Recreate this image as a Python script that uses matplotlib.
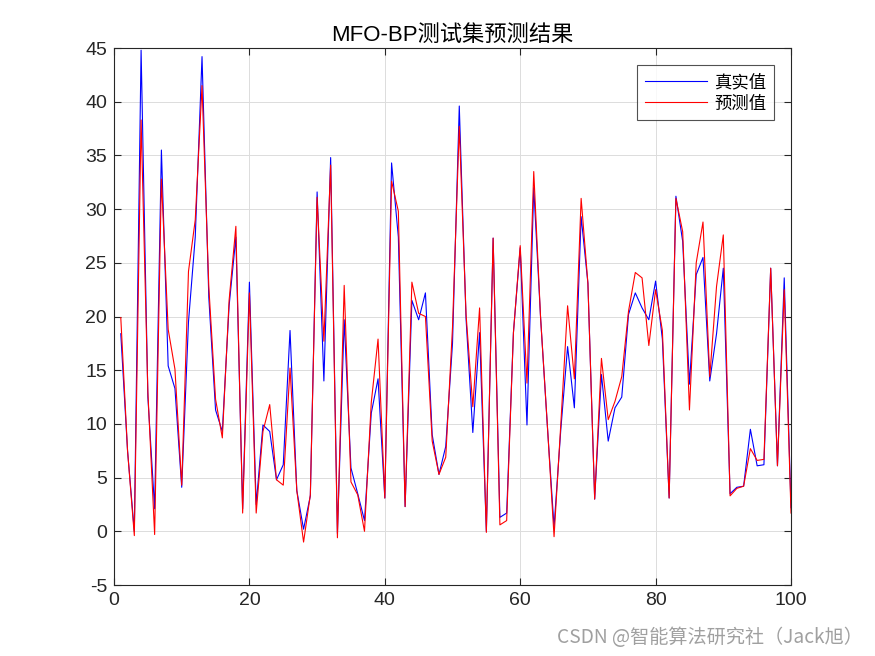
import matplotlib
matplotlib.use("Agg")
import matplotlib.pyplot as plt
import numpy as np

plt.rcParams['font.family'] = ['Liberation Sans', 'Noto Sans CJK SC', 'DejaVu Sans']

x_index = list(range(1, 101))
true_values = [
    18.4, 7.5, 0.0, 44.8, 12.5, 2.1, 35.5, 15.4, 13.3, 4.1,
    19.5, 27.4, 44.2, 21.8, 11.3, 9.3, 21.0, 27.4, 2.1, 23.2,
    2.5, 9.9, 9.3, 4.8, 6.2, 18.7, 3.8, 0.2, 3.3, 31.6,
    14.0, 34.8, -0.2, 19.7, 5.9, 3.5, 1.0, 11.0, 14.2, 3.1,
    34.3, 27.4, 2.3, 21.5, 19.7, 22.2, 9.0, 5.3, 7.9, 17.5,
    39.6, 19.8, 9.2, 18.5, 0.0, 27.3, 1.3, 1.7, 18.5, 26.4,
    9.9, 32.0, 20.0, 9.9, 0.4, 9.5, 17.2, 11.5, 29.3, 23.1,
    3.0, 14.6, 8.4, 11.5, 12.5, 20.2, 22.2, 20.8, 19.7, 23.3,
    17.9, 3.1, 31.2, 27.0, 13.7, 23.9, 25.5, 14.0, 18.4, 24.5,
    3.5, 4.1, 4.2, 9.5, 6.1, 6.2, 24.5, 6.1, 23.6, 2.2,
]
pred_values = [
    19.9, 7.5, -0.4, 38.3, 13.0, -0.3, 32.8, 18.8, 15.1, 4.3,
    24.2, 29.0, 41.5, 22.8, 12.3, 8.7, 21.5, 28.4, 1.7, 22.2,
    1.7, 9.3, 11.8, 4.8, 4.3, 15.2, 3.8, -1.0, 3.4, 31.1,
    17.7, 34.1, -0.6, 22.9, 4.6, 3.4, 0.0, 12.0, 17.9, 3.1,
    32.6, 29.8, 2.3, 23.2, 20.3, 20.0, 8.4, 5.3, 6.9, 19.0,
    37.7, 20.2, 11.6, 20.8, -0.1, 27.3, 0.6, 1.0, 18.5, 26.6,
    13.8, 33.5, 20.0, 10.0, -0.5, 10.0, 21.0, 14.2, 31.0, 23.1,
    3.0, 16.1, 10.4, 12.1, 14.4, 20.5, 24.1, 23.6, 17.3, 22.5,
    18.7, 3.1, 31.0, 27.9, 11.3, 25.0, 28.8, 14.4, 22.8, 27.6,
    3.3, 4.0, 4.2, 7.7, 6.6, 6.7, 24.5, 6.1, 22.5, 1.7,
]
x_ticks = [0, 20, 40, 60, 80, 100]
y_ticks = [-5, 0, 5, 10, 15, 20, 25, 30, 35, 40, 45]

fig = plt.figure(figsize=(8.75, 6.56), dpi=100)
ax = fig.add_axes([0.1303, 0.1082, 0.7737, 0.8186])

ax.plot(x_index, true_values, color='#0000ff', lw=0.8, label='真实值')
ax.plot(x_index, pred_values, color='#ff0000', lw=0.8, label='预测值')

ax.set_xlim(0, 100)
ax.set_ylim(-5, 45)
ax.set_xticks(x_ticks)
ax.set_yticks(y_ticks)
ax.set_xticklabels([str(t) for t in x_ticks])
ax.set_yticklabels([str(t) for t in y_ticks])
ax.tick_params(direction='in', top=True, right=True, labelsize=14,
               length=5, width=0.8, colors='#262626', pad=5)
ax.grid(True, color='#dcdcdc', lw=0.7)
ax.set_axisbelow(True)
for s in ax.spines.values():
    s.set_color('#262626')
    s.set_linewidth(0.8)

ax.set_title('MFO-BP测试集预测结果', fontsize=16, color='black', pad=5)

leg = ax.legend(loc='upper right', bbox_to_anchor=(0.975, 0.968),
                prop={'family': ['Noto Sans CJK SC'], 'size': 12.5},
                frameon=True, fancybox=False, edgecolor='#262626',
                handlelength=3.6, handletextpad=0.4, borderpad=0.45,
                labelspacing=0.2, borderaxespad=0)
leg.get_frame().set_linewidth(0.8)

fig.text(0.986, 0.028, 'CSDN @智能算法研究社（Jack旭）', ha='right', va='center',
         fontsize=13.8, color='#a0a0a0', family=['Noto Sans CJK SC'])

fig.savefig('out.png', dpi=100)
